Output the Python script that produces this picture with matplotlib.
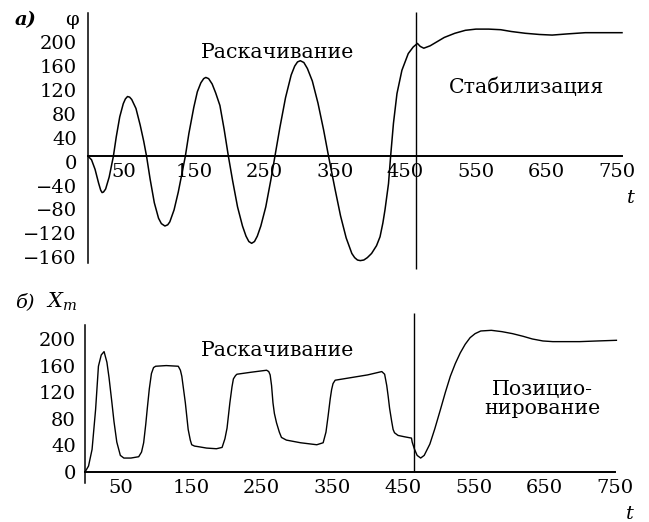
import matplotlib
matplotlib.use("Agg")
import matplotlib.pyplot as plt
import matplotlib.transforms as mtransforms

plt.rcParams['font.family'] = ['DejaVu Serif']
plt.rcParams['mathtext.fontset'] = 'dejavuserif'

# ---- data: panel a (phi vs t) ----
t_a = [0, 5, 10, 15, 18, 20, 22, 25, 30, 36, 40, 45, 50, 53, 56, 59, 62, 68, 74, 79, 83, 88,
       94, 100, 104, 109, 113, 116, 122, 128, 133, 138, 143, 150, 155, 160, 164, 167, 171,
       176, 181, 187, 193, 199, 205, 212, 219, 224, 228, 232, 236, 240, 245, 252, 259, 265,
       272, 280, 288, 293, 297, 301, 306, 311, 318, 326, 334, 341, 350, 358, 366, 374, 378,
       382, 386, 391, 396, 402, 409, 414, 418, 421, 426, 429, 433, 438, 445, 454, 461, 467,
       471, 476, 485, 495, 505, 520, 535, 550, 568, 585, 600, 620, 640, 658, 680, 705, 730, 757]
phi = [0, -6, -22, -45, -57, -61, -60, -55, -35, 0, 32, 66, 88, 96, 100, 99, 95, 80, 52, 25, 0, -38,
       -78, -104, -113, -117, -115, -110, -90, -60, -30, 0, 38, 82, 108, 123, 130, 132, 130,
       121, 106, 85, 45, 0, -41, -85, -117, -134, -143, -146, -143, -134, -117, -85, -41, 0,
       48, 98, 136, 151, 158, 160, 157, 147, 126, 89, 44, 0, -54, -100, -137, -163, -170,
       -174, -175, -174, -170, -163, -150, -135, -112, -90, -46, 0, 55, 105, 144, 172, 183, 189,
       184, 181, 185, 192, 199, 206, 211, 213, 213, 212, 209, 206, 204, 203, 205, 207, 207, 207]

# ---- data: panel b (X_m vs t) ----
t_b = [0, 5, 10, 15, 19, 23, 27, 31, 34, 38, 41, 45, 50, 55, 65, 76, 80, 83, 86, 88, 91, 94,
       97, 100, 115, 132, 135, 137, 140, 142, 144, 146, 149, 151, 155, 161, 172, 186, 194,
       198, 201, 203, 205, 208, 210, 213, 215, 235, 257, 260, 262, 264, 266, 268, 271, 275,
       278, 285, 305, 328, 337, 341, 344, 347, 349, 351, 354, 377, 400, 420, 424, 427, 429,
       431, 434, 436, 438, 443, 452, 462, 463, 466, 470, 475, 480, 488, 495, 503, 510, 517,
       524, 531, 538, 545, 552, 560, 575, 590, 605, 620, 633, 648, 662, 680, 700, 725, 752]
xm = [0, 9, 34, 94, 159, 176, 181, 165, 142, 105, 76, 45, 25, 21, 21, 23, 30, 44, 72, 94, 125, 148,
      157, 159, 160, 159, 153, 144, 120, 104, 84, 64, 48, 41, 39, 38, 36, 35, 37,
      50, 66, 85, 104, 128, 140, 145, 147, 150, 153, 151, 146, 130, 104, 88, 74, 60,
      52, 48, 44, 41, 44, 60, 84, 110, 124, 133, 138, 142, 146, 151, 147, 130, 114,
      96, 76, 64, 59, 55, 53, 51, 45, 35, 25, 21, 25, 42, 65, 94, 120, 144,
      163, 179, 192, 202, 208, 212, 213, 211, 208, 204, 200, 197, 196, 196, 196, 197, 198]

t_switch = 465
xticks = [50, 150, 250, 350, 450, 550, 650, 750]
yticks_a = [-160, -120, -80, -40, 0, 40, 80, 120, 160, 200]
yticks_b = [0, 40, 80, 120, 160, 200]

W, H = 649, 522
fig = plt.figure(figsize=(W / 100, H / 100), dpi=100)

def rect(l, t, r, b):
    return [l / W, 1 - b / H, (r - l) / W, (b - t) / H]

def fxy(x, y):
    return (x / W, 1 - y / H)

FS = 14
FS_ANN = 14.8

def style(ax, yt, ylab_pad):
    for s in ['top', 'right']:
        ax.spines[s].set_visible(False)
    ax.spines['bottom'].set_position(('data', 0))
    ax.spines['left'].set_linewidth(1.1)
    ax.spines['bottom'].set_linewidth(1.4)
    ax.set_xticks(xticks)
    ax.set_xticklabels([str(v) for v in xticks])
    ax.set_yticks(yt)
    ax.set_yticklabels([str(v).replace('-', '\u2212') for v in yt])
    ax.tick_params(axis='both', length=0, labelsize=FS)
    ax.tick_params(axis='x', pad=5)
    ax.tick_params(axis='y', pad=ylab_pad)
    ax.set_facecolor('none')

# panel a
ax1 = fig.add_axes(rect(88, 13, 622, 263))
ax1.plot(t_a, phi, color='black', lw=1.1, clip_on=False)
ax1.set_xlim(0, 757)
ax1.set_ylim(-179, 240)
style(ax1, yticks_a, 8)
ax1.vlines(t_switch, -189, 241, color='black', lw=1.0, clip_on=False)
off = mtransforms.ScaledTranslation(0, -4 / 72, fig.dpi_scale_trans)
for lab in ax1.get_yticklabels():
    lab.set_transform(lab.get_transform() + off)

# panel b
ax2 = fig.add_axes(rect(85, 325, 615, 483))
ax2.plot(t_b, xm, color='black', lw=1.0, clip_on=False)
ax2.set_xlim(0, 749)
ax2.set_ylim(-16.5, 221)
style(ax2, yticks_b, 6.5)
ax2.vlines(t_switch, 0, 239, color='black', lw=1.0, clip_on=False)

# region annotations
fig.text(*fxy(278, 53), 'Раскачивание', fontsize=FS_ANN, ha='center', va='center')
fig.text(*fxy(527, 87), 'Стабилизация', fontsize=FS_ANN, ha='center', va='center')
fig.text(*fxy(278, 350), 'Раскачивание', fontsize=FS_ANN, ha='center', va='center')
fig.text(*fxy(542, 399), 'Позицио-\nнирование', fontsize=FS_ANN, ha='center', va='center',
         linespacing=1.0)

# labels
fig.text(*fxy(15, 20), 'а)', fontsize=FS, style='italic', weight='bold', ha='left', va='center')
fig.text(*fxy(72, 20), 'φ', fontsize=FS, ha='center', va='center')
fig.text(*fxy(15, 302), 'б)', fontsize=FS, style='italic', ha='left', va='center')
fig.text(*fxy(46, 302), '$X_m$', fontsize=FS + 1, ha='left', va='center')
fig.text(*fxy(631, 198), 't', fontsize=FS, style='italic', ha='center', va='center')
fig.text(*fxy(630, 514), 't', fontsize=FS, style='italic', ha='center', va='center')

fig.savefig('out.png', dpi=100)
